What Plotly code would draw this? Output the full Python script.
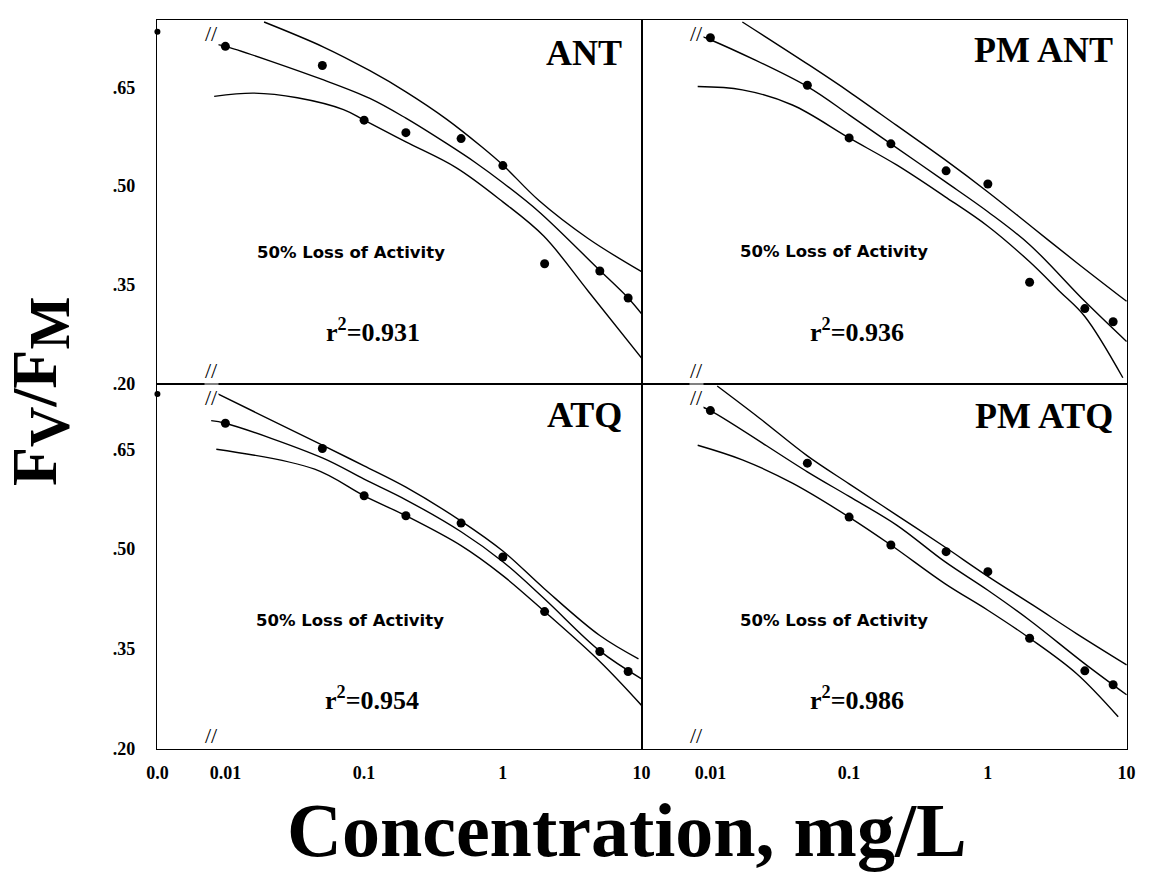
import plotly.graph_objects as go

# ---------------- data ----------------
DOSE = [0.01, 0.05, 0.1, 0.2, 0.5, 1, 2, 5, 8]
X_TICK_VALS = [0.01, 0.1, 1, 10]
X_TICK_TEXT = ["0.01", "0.1", "1", "10"]
CONTROL_LABEL = "0.0"
Y_TICK_VALS = [0.20, 0.35, 0.50, 0.65]
Y_TICK_TEXT = [".20", ".35", ".50", ".65"]

PANELS = ["ANT", "PM ANT", "ATQ", "PM ATQ"]
R2_TEXT = ["0.931", "0.936", "0.954", "0.986"]

ANT_PTS = [0.712, 0.683, 0.600, 0.581, 0.572, 0.531, 0.382, 0.371, 0.330]
ANT_CONTROL = 0.734
ANT_FIT_X = [0.0085, 0.01, 0.051, 0.11, 0.2, 0.39, 0.64, 1.0, 1.82, 4.88, 8, 10]
ANT_FIT_Y = [0.715, 0.712, 0.661, 0.633, 0.603, 0.565, 0.535, 0.505, 0.461, 0.374, 0.330, 0.306]
ANT_UP_X = [0.019, 0.051, 0.11, 0.2, 0.39, 0.7, 1.0, 1.82, 4.14, 10]
ANT_UP_Y = [0.749, 0.711, 0.675, 0.643, 0.602, 0.560, 0.532, 0.478, 0.420, 0.370]
ANT_LO_X = [0.0083, 0.016, 0.033, 0.071, 0.1, 0.2, 0.46, 1, 1.97, 4.14, 10]
ANT_LO_Y = [0.636, 0.641, 0.634, 0.616, 0.600, 0.567, 0.528, 0.476, 0.424, 0.340, 0.239]

PMANT_PTS = [0.725, 0.653, 0.573, 0.564, 0.523, 0.503, 0.354, 0.314, 0.294]
PMANT_FIT_X = [0.0081, 0.01, 0.05, 0.1, 0.2, 0.49, 1, 2, 5, 10]
PMANT_FIT_Y = [0.729, 0.722, 0.651, 0.608, 0.564, 0.507, 0.461, 0.411, 0.325, 0.264]
PMANT_UP_X = [0.017, 0.052, 0.1, 0.22, 0.49, 1.0, 2.1, 4.35, 10]
PMANT_UP_Y = [0.749, 0.683, 0.643, 0.592, 0.540, 0.491, 0.437, 0.384, 0.325]
PMANT_LO_X = [0.0081, 0.017, 0.039, 0.1, 0.22, 0.49, 1, 2, 3.3, 5, 9.4]
PMANT_LO_Y = [0.651, 0.646, 0.623, 0.573, 0.532, 0.484, 0.439, 0.385, 0.340, 0.302, 0.209]

ATQ_PTS = [0.689, 0.651, 0.580, 0.550, 0.539, 0.488, 0.406, 0.346, 0.316]
ATQ_CONTROL = 0.733
ATQ_FIT_X = [0.0079, 0.01, 0.05, 0.1, 0.2, 0.5, 1, 2, 5, 10]
ATQ_FIT_Y = [0.693, 0.689, 0.637, 0.605, 0.574, 0.526, 0.481, 0.425, 0.347, 0.305]
ATQ_UP_X = [0.0079, 0.05, 0.1, 0.2, 0.5, 1, 2, 5, 9.5]
ATQ_UP_Y = [0.738, 0.656, 0.625, 0.593, 0.542, 0.497, 0.440, 0.370, 0.335]
ATQ_LO_X = [0.0086, 0.044, 0.1, 0.2, 0.5, 1, 2, 5, 10]
ATQ_LO_Y = [0.650, 0.620, 0.580, 0.550, 0.505, 0.460, 0.406, 0.331, 0.265]

PMATQ_PTS = [0.708, 0.629, 0.548, 0.506, 0.496, 0.466, 0.366, 0.317, 0.296]
PMATQ_FIT_X = [0.0081, 0.01, 0.05, 0.1, 0.22, 0.49, 1, 2, 4.9, 10]
PMATQ_FIT_Y = [0.716, 0.708, 0.616, 0.579, 0.536, 0.481, 0.438, 0.393, 0.329, 0.281]
PMATQ_UP_X = [0.0112, 0.0225, 0.05, 0.1, 0.22, 0.49, 1, 2.1, 4.35, 10]
PMATQ_UP_Y = [0.745, 0.697, 0.640, 0.598, 0.551, 0.503, 0.459, 0.416, 0.373, 0.326]
PMATQ_LO_X = [0.0081, 0.017, 0.039, 0.1, 0.2, 0.49, 1, 2, 4.35, 8.7]
PMATQ_LO_Y = [0.656, 0.634, 0.599, 0.548, 0.506, 0.448, 0.408, 0.366, 0.313, 0.248]

# ---------------- layout constants ----------------
W, H = 1149, 873
X_LOG_MIN, X_LOG_MAX = -2.49, 1.0
CONTROL_X = 10 ** X_LOG_MIN
SERIF = "Liberation Serif"


def px_x(p):
    return p / W


def px_y(p):
    return 1 - p / H


XDOM_L = [px_x(157), px_x(642)]
XDOM_R = [px_x(642), px_x(1127)]
YDOM_T = [px_y(384), px_y(20)]
YDOM_B = [px_y(749), px_y(384)]

panels = [
    dict(name=PANELS[0], pts=ANT_PTS, ctrl=ANT_CONTROL,
         curves=[(ANT_UP_X, ANT_UP_Y), (ANT_FIT_X, ANT_FIT_Y), (ANT_LO_X, ANT_LO_Y)],
         xa="x", ya="y", xdom=XDOM_L, ydom=YDOM_T, yr=[0.1995, 0.752], left=True, bottom=False,
         r2=R2_TEXT[0], lbl=(0.963, 0.908), loss=(0.40, 0.36), r2pos=(0.445, 0.096)),
    dict(name=PANELS[1], pts=PMANT_PTS, ctrl=None,
         curves=[(PMANT_UP_X, PMANT_UP_Y), (PMANT_FIT_X, PMANT_FIT_Y), (PMANT_LO_X, PMANT_LO_Y)],
         xa="x2", ya="y2", xdom=XDOM_R, ydom=YDOM_T, yr=[0.1995, 0.752], left=False, bottom=False,
         r2=R2_TEXT[1], lbl=(0.975, 0.918), loss=(0.395, 0.363), r2pos=(0.443, 0.096)),
    dict(name=PANELS[2], pts=ATQ_PTS, ctrl=ATQ_CONTROL,
         curves=[(ATQ_UP_X, ATQ_UP_Y), (ATQ_FIT_X, ATQ_FIT_Y), (ATQ_LO_X, ATQ_LO_Y)],
         xa="x3", ya="y3", xdom=XDOM_L, ydom=YDOM_B, yr=[0.1995, 0.748], left=True, bottom=True,
         r2=R2_TEXT[2], lbl=(0.963, 0.915), loss=(0.397, 0.353), r2pos=(0.443, 0.088)),
    dict(name=PANELS[3], pts=PMATQ_PTS, ctrl=None,
         curves=[(PMATQ_UP_X, PMATQ_UP_Y), (PMATQ_FIT_X, PMATQ_FIT_Y), (PMATQ_LO_X, PMATQ_LO_Y)],
         xa="x4", ya="y4", xdom=XDOM_R, ydom=YDOM_B, yr=[0.1995, 0.748], left=False, bottom=True,
         r2=R2_TEXT[3], lbl=(0.975, 0.912), loss=(0.395, 0.353), r2pos=(0.443, 0.088)),
]

fig = go.Figure()
annotations = []
layout_axes = {}

for i, p in enumerate(panels):
    for cx, cy in p["curves"]:
        fig.add_trace(go.Scatter(x=cx, y=cy, mode="lines", xaxis=p["xa"], yaxis=p["ya"],
                                 line=dict(color="black", width=1.4, shape="spline", smoothing=1.0),
                                 showlegend=False, hoverinfo="skip"))
    fig.add_trace(go.Scatter(x=DOSE, y=p["pts"], mode="markers", xaxis=p["xa"], yaxis=p["ya"],
                             marker=dict(color="black", size=9), showlegend=False))
    if p["ctrl"] is not None:
        fig.add_trace(go.Scatter(x=[CONTROL_X], y=[p["ctrl"]], mode="markers",
                                 xaxis=p["xa"], yaxis=p["ya"], cliponaxis=False,
                                 marker=dict(color="black", size=6), showlegend=False))

    xkey = "xaxis" + ("" if i == 0 else str(i + 1))
    ykey = "yaxis" + ("" if i == 0 else str(i + 1))
    if p["left"]:
        tv = [CONTROL_X] + X_TICK_VALS
        tt = [CONTROL_LABEL] + X_TICK_TEXT
    else:
        tv, tt = X_TICK_VALS, X_TICK_TEXT
    layout_axes[xkey] = dict(
        domain=p["xdom"], anchor=p["ya"], type="log", automargin=False,
        range=[X_LOG_MIN - 0.003, X_LOG_MAX + 0.003],
        tickvals=tv, ticktext=tt, showticklabels=p["bottom"], ticks="",
        showgrid=False, zeroline=False, showline=True, mirror=True,
        linecolor="black", linewidth=1.4, ticklabelstandoff=7,
        tickfont=dict(family=SERIF, size=18, color="black", weight="bold"))
    layout_axes[ykey] = dict(
        domain=p["ydom"], anchor=p["xa"], range=p["yr"], automargin=False,
        tickvals=Y_TICK_VALS, ticktext=Y_TICK_TEXT, showticklabels=p["left"], ticks="",
        showgrid=False, zeroline=False, showline=True, mirror=True,
        linecolor="black", linewidth=1.4, ticklabelstandoff=17,
        tickfont=dict(family=SERIF, size=18, color="black", weight="bold"))

    xd = p["xa"] + " domain"
    yd = p["ya"] + " domain"
    annotations.append(dict(xref=xd, yref=yd, x=p["lbl"][0], y=p["lbl"][1], text=p["name"],
                            showarrow=False, xanchor="right", yanchor="middle",
                            font=dict(family=SERIF, size=36, color="black", weight="bold")))
    annotations.append(dict(xref=xd, yref=yd, x=p["loss"][0], y=p["loss"][1],
                            text="50% Loss of Activity", showarrow=False,
                            font=dict(family="DejaVu Sans", size=16.5, color="black", weight="bold")))
    annotations.append(dict(xref=xd, yref=yd, x=p["r2pos"][0], y=p["r2pos"][1],
                            text="r<sup>2</sup>=" + p["r2"], showarrow=False,
                            font=dict(family=SERIF, size=26, color="black", weight="bold")))
    for yb in (0, 1):
        annotations.append(dict(xref=xd, yref=yd, x=0.097, y=yb, text="//", showarrow=False,
                                bgcolor="white", borderpad=0,
                                font=dict(family=SERIF, size=22, color="black")))

annotations.append(dict(xref="paper", yref="paper", x=px_x(627), y=px_y(830),
                        text="Concentration, mg/L", showarrow=False,
                        xanchor="center", yanchor="middle",
                        font=dict(family=SERIF, size=76, color="black", weight="bold")))
annotations.append(dict(xref="paper", yref="paper", x=px_x(40), y=px_y(392),
                        text="F<sub><span style='font-size:56px'>V</span></sub>/F<sub><span style='font-size:56px'>M</span></sub>",
                        showarrow=False, textangle=-90, xanchor="center", yanchor="middle",
                        font=dict(family=SERIF, size=64, color="black", weight="bold")))

fig.update_layout(width=W, height=H, margin=dict(l=0, r=0, t=0, b=0, autoexpand=False),
                  paper_bgcolor="white", plot_bgcolor="white",
                  annotations=annotations, **layout_axes)

fig.write_html("out.html", config={"displayModeBar": False},
               post_script="document.body.style.margin='0';document.body.style.overflow='hidden';")
